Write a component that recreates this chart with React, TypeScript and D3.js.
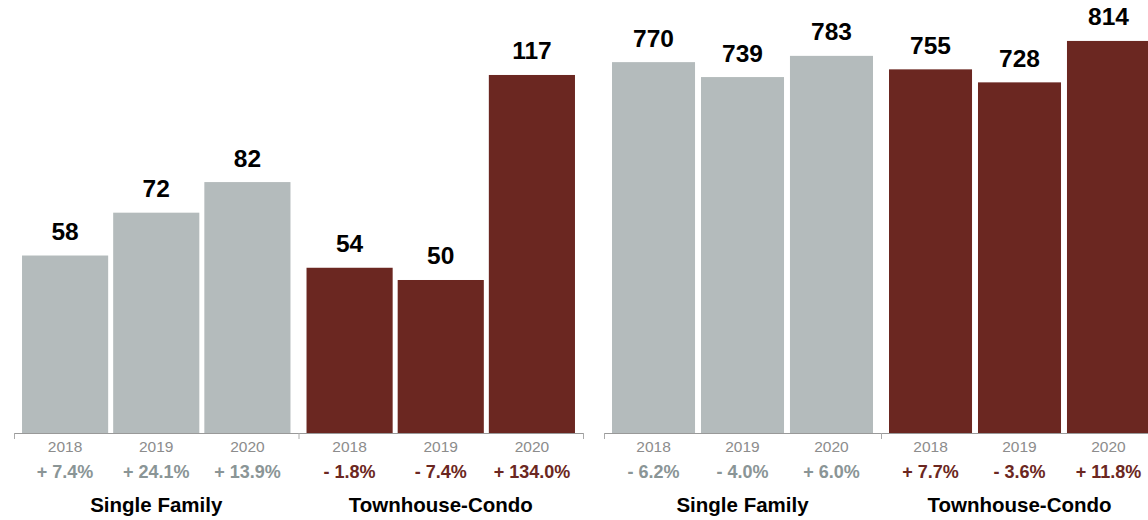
import React from "react";
import * as d3 from "d3";

const groups = ["Single Family", "Townhouse-Condo"];
const years = ["2018", "2019", "2020"];

// Left chart
const leftSingle = [58, 72, 82];
const leftTownhouse = [54, 50, 117];
const leftSinglePct = ["+ 7.4%", "+ 24.1%", "+ 13.9%"];
const leftTownhousePct = ["- 1.8%", "- 7.4%", "+ 134.0%"];

// Right chart
const rightSingle = [770, 739, 783];
const rightTownhouse = [755, 728, 814];
const rightSinglePct = ["- 6.2%", "- 4.0%", "+ 6.0%"];
const rightTownhousePct = ["+ 7.7%", "- 3.6%", "+ 11.8%"];

const GRAY = "#b4bbbc";
const MAROON = "#6b2721";
const GRAY_TEXT = "#8a9596";
const FONT = "Helvetica, Arial, 'Liberation Sans', sans-serif";
const BASE = 433;

type PanelProps = {
  x0: number;
  x1: number;
  yMax: number;
  values: number[][];
  pcts: string[][];
  padInner: number;
  padOuter: number;
};

function Panel({ x0, x1, yMax, values, pcts, padInner, padOuter }: PanelProps) {
  const gx = d3.scaleBand<string>().domain(groups).range([x0, x1]).padding(0);
  const bx = d3
    .scaleBand<string>()
    .domain(years)
    .range([0, gx.bandwidth()])
    .paddingInner(padInner)
    .paddingOuter(padOuter);
  const y = d3.scaleLinear().domain([0, yMax]).range([BASE, 0]);
  const colors = [GRAY, MAROON];
  const pctColors = [GRAY_TEXT, MAROON];
  const tickXs = [x0, ...groups.map((g) => (gx(g) as number) + gx.bandwidth())];
  return (
    <g>
      {groups.map((g, gi) => {
        const gStart = gx(g) as number;
        return (
          <g key={g}>
            {years.map((yr, i) => {
              const v = values[gi][i];
              const bxPos = gStart + (bx(yr) as number);
              const cx = bxPos + bx.bandwidth() / 2;
              return (
                <g key={yr}>
                  <rect
                    x={bxPos}
                    y={y(v)}
                    width={bx.bandwidth()}
                    height={BASE - y(v)}
                    fill={colors[gi]}
                  />
                  <text
                    x={cx}
                    y={y(v) - 15.5}
                    textAnchor="middle"
                    fontFamily={FONT}
                    fontWeight="bold"
                    fontSize={24.5}
                    fill="#000"
                  >
                    {v}
                  </text>
                  <text
                    x={cx}
                    y={452}
                    textAnchor="middle"
                    fontFamily={FONT}
                    fontSize={15.5}
                    fill="#8c8c8c"
                  >
                    {yr}
                  </text>
                  <text
                    x={cx}
                    y={478}
                    textAnchor="middle"
                    fontFamily={FONT}
                    fontWeight="bold"
                    fontSize={18}
                    fill={pctColors[gi]}
                  >
                    {pcts[gi][i]}
                  </text>
                </g>
              );
            })}
            <text
              x={gStart + gx.bandwidth() / 2}
              y={511.5}
              textAnchor="middle"
              fontFamily={FONT}
              fontWeight="bold"
              fontSize={20.5}
              fill="#000"
            >
              {g}
            </text>
          </g>
        );
      })}
      <line x1={x0} x2={x1} y1={BASE + 0.5} y2={BASE + 0.5} stroke="#999" strokeWidth={1} />
      {tickXs.map((tx, i) => (
        <line
          key={i}
          x1={tx + 0.5}
          x2={tx + 0.5}
          y1={BASE}
          y2={BASE + 6}
          stroke="#aaa"
          strokeWidth={1}
        />
      ))}
    </g>
  );
}

export default function App() {
  return (
    <div
      style={{
        position: "absolute",
        left: 0,
        top: 0,
        width: 1148,
        height: 520,
        overflow: "hidden",
        background: "#fff",
      }}
    >
      <svg width={1148} height={520} style={{ display: "block" }}>
        <Panel
          x0={14}
          x1={583}
          yMax={141.5}
          values={[leftSingle, leftTownhouse]}
          pcts={[leftSinglePct, leftTownhousePct]}
          padInner={0.055}
          padOuter={0.088}
        />
        <Panel
          x0={604}
          x1={1158}
          yMax={899}
          values={[rightSingle, rightTownhouse]}
          pcts={[rightSinglePct, rightTownhousePct]}
          padInner={0.067}
          padOuter={0.09}
        />
      </svg>
    </div>
  );
}
